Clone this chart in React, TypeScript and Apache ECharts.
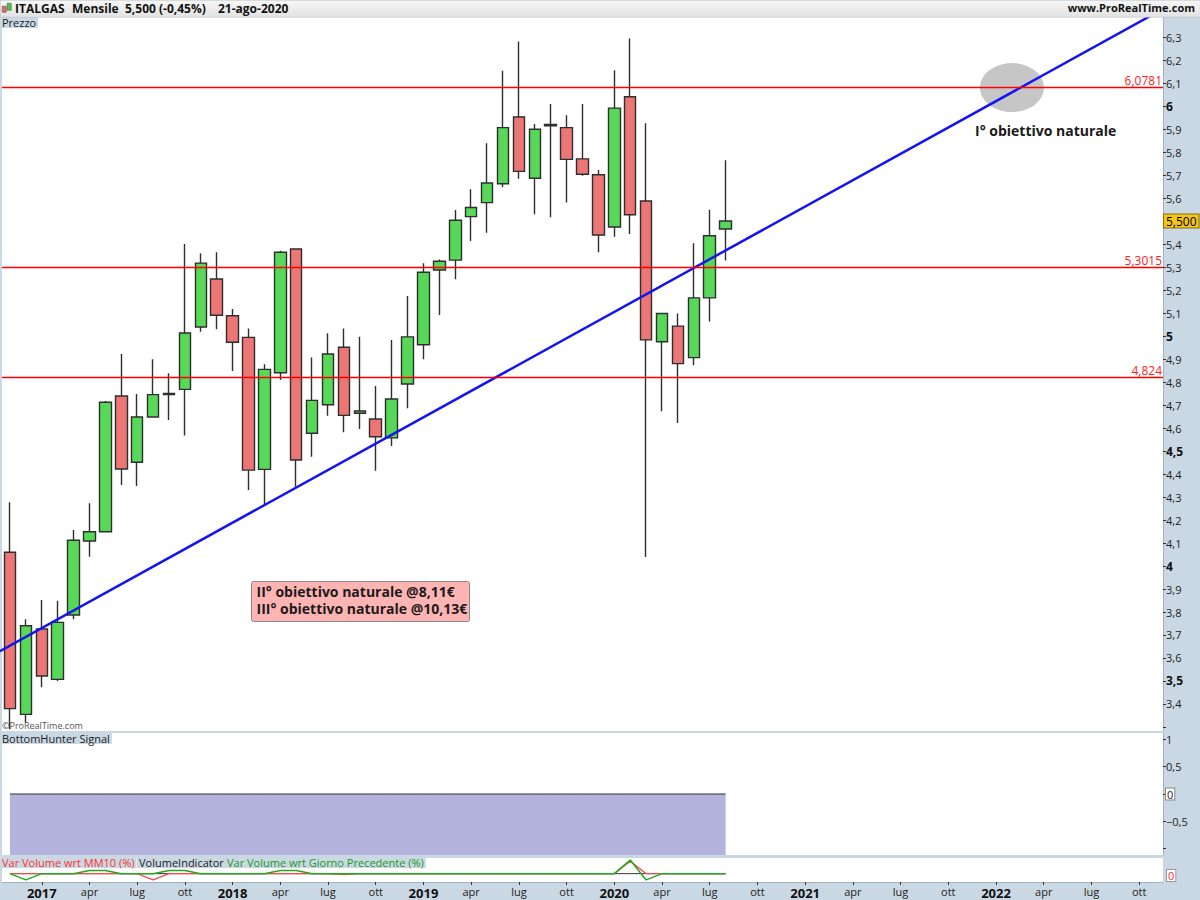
import React, { useEffect, useRef } from 'react';
import * as echarts from 'echarts';

// ---------- categories (monthly, Nov 2016 .. Nov 2022) ----------
const START_YEAR = 2016;
const START_MONTH = 10; // November (0-based)
const N_MONTHS = 73;
const categories: string[] = [];
for (let k = 0; k < N_MONTHS; k++) {
  const m = (START_MONTH + k) % 12;
  const y = START_YEAR + Math.floor((START_MONTH + k) / 12);
  categories.push(`${y}-${String(m + 1).padStart(2, '0')}`);
}
const MONTH_LABELS: Record<string, string> = { '04': 'apr', '07': 'lug', '10': 'ott' };

// ---------- monthly OHLC, Nov 2016 .. Aug 2020 ----------
const opens = [4.06, 3.355, 3.726, 3.507, 3.787, 4.109, 4.149, 4.739, 4.451, 4.648, 4.745, 4.768,
  5.039, 5.248, 5.088, 4.994, 4.42, 4.84, 5.378, 4.577, 4.701, 4.951, 4.664, 4.639,
  4.557, 4.791, 4.962, 5.287, 5.33, 5.519, 5.58, 5.662, 5.952, 5.686, 5.914, 5.906,
  5.77, 5.701, 5.474, 6.04, 5.587, 4.975, 5.043, 4.906, 5.166, 5.465];
const closes = [3.38, 3.74, 3.522, 3.755, 4.112, 4.149, 4.712, 4.422, 4.648, 4.745, 4.75, 5.013,
  5.317, 5.09, 4.973, 4.417, 4.855, 5.364, 4.461, 4.72, 4.922, 4.655, 4.674, 4.562,
  4.726, 4.996, 5.277, 5.325, 5.503, 5.559, 5.665, 5.906, 5.716, 5.899, 5.92, 5.768,
  5.703, 5.439, 5.991, 5.527, 4.983, 5.098, 4.88, 5.166, 5.436, 5.5];
const lows = [3.29, 3.32, 3.473, 3.5, 3.768, 4.04, 4.149, 4.352, 4.348, 4.645, 4.635, 4.567,
  5.019, 5.029, 4.848, 4.33, 4.265, 4.809, 4.345, 4.475, 4.653, 4.581, 4.596, 4.414,
  4.522, 4.686, 4.899, 5.091, 5.247, 5.413, 5.449, 5.647, 5.684, 5.529, 5.516, 5.581,
  5.697, 5.364, 5.432, 5.443, 4.039, 4.673, 4.622, 4.873, 5.063, 5.328];
const highs = [4.277, 3.768, 3.852, 3.849, 4.157, 4.273, 4.717, 4.922, 4.748, 4.899, 4.838, 5.4,
  5.36, 5.364, 5.117, 5.033, 4.877, 5.371, 5.38, 4.907, 5.012, 5.033, 4.997, 4.783,
  4.983, 5.174, 5.316, 5.333, 5.548, 5.638, 5.838, 6.153, 6.28, 5.922, 6.009, 5.96,
  6.009, 5.722, 6.155, 6.293, 5.925, 5.1, 5.098, 5.403, 5.549, 5.764];

// ---------- horizontal levels / last price / trend line ----------
const LEVELS = [6.0781, 5.3015, 4.824];
const LAST_PRICE = 5.5;
const TREND_START: [number, number] = [-0.63, 3.63];
const TREND_END: [number, number] = [72.5, 6.422];
const TARGET_POINT: [number, number] = [63.0, 6.08];

// ---------- lower panes ----------
const bottomHunter = [0, 0, 0, 0, 0, 0, 0, 0, 0, 0, 0, 0, 0, 0, 0, 0, 0, 0, 0, 0, 0, 0, 0,
  0, 0, 0, 0, 0, 0, 0, 0, 0, 0, 0, 0, 0, 0, 0, 0, 0, 0, 0, 0, 0, 0, 0];
const volZero = [0, 0, 0, 0, 0, 0, 0, 0, 0, 0, 0, 0, 0, 0, 0, 0, 0, 0, 0, 0, 0, 0, 0,
  0, 0, 0, 0, 0, 0, 0, 0, 0, 0, 0, 0, 0, 0, 0, 0, 0, 0, 0, 0, 0, 0, 0];
const volMM10 = [0, 0, 0, 0, 0, 0, 0, 0, 0, -0.6, 0, 0, 0, 0, 0, 0, 0, 0, 0, 0, 0, -0.1, 0,
  0, 0, 0, 0, 0, 0, 0, 0, 0, 0, 0, 0, 0, 0, 0, 0, 1.2, 0, 0, 0, 0, 0, 0];
const volPrev = [0, -0.6, 0, 0, 0, 0.3, 0.3, 0, 0, 0, 0.3, 0.3, 0, 0, 0, 0, 0, 0.3, 0.3, 0, 0, 0, 0,
  0, 0, 0, 0, 0, 0, 0, 0, 0, 0, 0, 0, 0, 0, 0, 0, 1.3, -0.6, 0, 0, 0, 0, 0];

const FONT = "'Open Sans', 'Noto Sans', sans-serif";
const PANEL = '#c9d8e3';

const comma = (v: number) => String(v).replace('.', ',');

export default function App() {
  const ref = useRef<HTMLDivElement>(null);

  useEffect(() => {
    if (!ref.current) return;
    const chart = echarts.init(ref.current, null, { renderer: 'svg' });

    const ohlc = opens.map((o, i) => [o, closes[i], lows[i], highs[i]]);
    const labelInterval = (_i: number, v: string) => ['01', '04', '07', '10'].includes(v.split('-')[1]);

    const priceFmt = (v: number) => {
      const r = Math.round(v * 10) / 10;
      if (Math.abs(v - r) > 1e-6) return '';
      if (r < 3.35 || r > 6.35 || Math.abs(r - LAST_PRICE) < 1e-6) return '';
      const s = Number.isInteger(r) ? String(r) : r.toFixed(1).replace('.', ',');
      return Math.abs(r * 2 - Math.round(r * 2)) < 1e-6 ? `{b|${s}}` : s;
    };

    const bhFmt = (v: number) => {
      if (Math.abs(v) < 1e-6) return '{z|0}';
      if (Math.abs(v - 1) < 1e-6) return '1';
      if (Math.abs(v - 0.5) < 1e-6) return '0,5';
      if (Math.abs(v + 0.5) < 1e-6) return '\u22120,5';
      return '';
    };

    const hiddenCat = (gridIndex: number) => ({
      type: 'category', gridIndex, data: categories, boundaryGap: true, show: false,
    });

    const titleStyle = (text: string, fill: string) => ({
      text, font: `11px ${FONT}`, fill, backgroundColor: PANEL, padding: [0, 2, 0, 2],
    });

    const option: any = {
      animation: false,
      backgroundColor: PANEL,
      textStyle: { fontFamily: FONT },
      grid: [
        { left: 2, top: 17, width: 1161, height: 714, show: true, backgroundColor: '#fff', borderWidth: 0 },
        { left: 2, top: 733, width: 1161, height: 122, show: true, backgroundColor: '#fff', borderWidth: 0 },
        { left: 2, top: 858, width: 1161, height: 24, show: true, backgroundColor: '#fff', borderWidth: 0 },
      ],
      xAxis: [
        hiddenCat(0),
        hiddenCat(1),
        {
          type: 'category', gridIndex: 2, data: categories, boundaryGap: true,
          axisLine: { show: true, onZero: false, lineStyle: { color: '#9fb3c1' } },
          axisTick: { show: true, interval: labelInterval, alignWithLabel: true, length: 3, lineStyle: { color: '#333' } },
          axisLabel: {
            interval: labelInterval, margin: 4, fontSize: 11, color: '#222', fontFamily: FONT,
            formatter: (v: string) => {
              const [y, m] = v.split('-');
              if (m === '01') return `{y|${y}}`;
              return MONTH_LABELS[m] || '';
            },
            rich: { y: { fontSize: 13, fontWeight: 'bold', color: '#111', fontFamily: FONT } },
          },
        },
        { type: 'value', gridIndex: 0, min: -0.5, max: 72.5, show: false, axisLine: { onZero: false } },
      ],
      yAxis: [
        {
          type: 'value', gridIndex: 0, position: 'right', min: 3.2826, max: 6.387,
          splitNumber: 30, minInterval: 0.1, maxInterval: 0.1, scale: true,
          splitLine: { show: false },
          axisLine: { show: true, onZero: false, lineStyle: { color: '#9fb3c1' } },
          axisTick: { show: true, length: 3, lineStyle: { color: '#333' } },
          axisLabel: {
            margin: 3, fontSize: 11, color: '#222', fontFamily: FONT, showMinLabel: false, showMaxLabel: false,
            formatter: priceFmt,
            rich: { b: { fontWeight: 'bold', fontSize: 12, color: '#111', fontFamily: FONT } },
          },
        },
        {
          type: 'value', gridIndex: 1, position: 'right', min: -1.115, max: 1.115,
          splitNumber: 4, minInterval: 0.5, maxInterval: 0.5,
          splitLine: { show: false },
          axisLine: { show: true, onZero: false, lineStyle: { color: '#9fb3c1' } },
          axisTick: { show: true, length: 3, lineStyle: { color: '#333' } },
          axisLabel: {
            margin: 3, fontSize: 11, color: '#222', fontFamily: FONT, showMinLabel: false, showMaxLabel: false,
            formatter: bhFmt,
            rich: { z: { backgroundColor: '#fff', borderColor: '#888', borderWidth: 1, padding: [0, 1, 0, 1], fontSize: 11, color: '#222', fontFamily: FONT } },
          },
        },
        { type: 'value', gridIndex: 2, min: -0.8, max: 1.5, show: false, axisLine: { onZero: false } },
      ],
      series: [
        {
          type: 'scatter', xAxisIndex: 3, yAxisIndex: 0, z: 1, silent: true,
          symbol: 'circle', symbolSize: [64, 49],
          itemStyle: { color: '#b8b8b8' },
          data: [TARGET_POINT],
        },
        {
          type: 'candlestick', xAxisIndex: 0, yAxisIndex: 0, z: 2, barWidth: 12,
          itemStyle: {
            color: '#58d858', color0: '#ec7676',
            borderColor: '#2e2e2e', borderColor0: '#2e2e2e', borderWidth: 1.4,
          },
          data: ohlc,
          markLine: {
            symbol: 'none', silent: true, animation: false,
            data: [
              ...LEVELS.map((v) => ({
                yAxis: v,
                lineStyle: { color: '#ff0000', width: 1.3, type: 'solid' },
                label: { show: true, position: 'insideEndTop', formatter: comma(v), color: '#ff2020', fontSize: 12, fontFamily: FONT, distance: 1 },
              })),
              {
                yAxis: LAST_PRICE,
                lineStyle: { color: 'rgba(0,0,0,0)', width: 0 },
                label: {
                  show: true, position: 'end', formatter: LAST_PRICE.toFixed(3).replace('.', ','),
                  backgroundColor: '#f5c518', borderColor: '#8a7000', borderWidth: 1,
                  padding: [1, 2, 0, 2], color: '#000', fontSize: 12, fontFamily: FONT, distance: 1,
                },
              },
            ],
          },
        },
        {
          type: 'line', xAxisIndex: 3, yAxisIndex: 0, z: 4, silent: true, clip: true,
          symbol: 'none', lineStyle: { color: '#1414ee', width: 2.5 },
          data: [TREND_START, TREND_END],
        },
        {
          type: 'line', xAxisIndex: 1, yAxisIndex: 1, symbol: 'none', silent: true,
          lineStyle: { color: '#333', width: 1 },
          areaStyle: { color: '#b3b3dd', opacity: 1, origin: 'start' },
          data: bottomHunter,
        },
        {
          type: 'line', xAxisIndex: 2, yAxisIndex: 2, symbol: 'none', silent: true,
          lineStyle: { color: '#333', width: 1 }, data: volZero,
        },
        {
          type: 'line', xAxisIndex: 2, yAxisIndex: 2, symbol: 'none', silent: true,
          lineStyle: { color: '#ff4a4a', width: 1.3 }, data: volMM10,
        },
        {
          type: 'line', xAxisIndex: 2, yAxisIndex: 2, symbol: 'none', silent: true,
          lineStyle: { color: '#22a822', width: 1.5 }, data: volPrev,
        },
      ],
      graphic: [
        // header bar
        {
          type: 'rect', left: 0, top: 0, z: 100, silent: true,
          shape: { width: 1200, height: 17 },
          style: {
            fill: new echarts.graphic.LinearGradient(0, 0, 0, 1, [
              { offset: 0, color: '#f7f7f7' }, { offset: 1, color: '#e2e2e2' },
            ]),
            stroke: '#b8b8b8', lineWidth: 0.5,
          },
        },
        { type: 'rect', left: 2, top: 6, z: 101, shape: { width: 4, height: 6 }, style: { fill: '#e66', stroke: '#444', lineWidth: 0.5 } },
        { type: 'rect', left: 7, top: 3, z: 101, shape: { width: 4, height: 7 }, style: { fill: '#4c4', stroke: '#444', lineWidth: 0.5 } },
        { type: 'text', left: 15, top: 2, z: 101, style: { text: 'ITALGAS', font: `bold 12px ${FONT}`, fill: '#111' } },
        { type: 'text', left: 72, top: 2, z: 101, style: { text: 'Mensile', font: `bold 12px ${FONT}`, fill: '#111' } },
        { type: 'text', left: 125, top: 2, z: 101, style: { text: '5,500 (-0,45%)', font: `bold 12px ${FONT}`, fill: '#111' } },
        { type: 'text', left: 218, top: 2, z: 101, style: { text: '21-ago-2020', font: `bold 12px ${FONT}`, fill: '#111' } },
        { type: 'text', right: 5, top: 2, z: 101, style: { text: 'www.ProRealTime.com', font: `bold 11px ${FONT}`, fill: '#111' } },
        // pane titles
        { type: 'text', left: 0, top: 17, z: 50, style: titleStyle('Prezzo', '#222') },
        { type: 'text', left: 0, top: 733, z: 50, style: titleStyle('BottomHunter Signal', '#222') },
        { type: 'text', left: 0, top: 857, z: 50, style: titleStyle('Var Volume wrt MM10 (%)', '#ff3030') },
        { type: 'text', left: 137, top: 857, z: 50, style: titleStyle('VolumeIndicator', '#222') },
        { type: 'text', left: 225, top: 857, z: 50, style: titleStyle('Var Volume wrt Giorno Precedente (%)', '#1a9a1a') },
        { type: 'text', left: 2, top: 721, z: 50, style: { text: '\u00a9ProRealTime.com', font: `9px ${FONT}`, fill: '#555' } },
        // volume pane right labels
        { type: 'text', left: 1166, top: 869, z: 50, style: { text: '0', font: `11px ${FONT}`, fill: '#ff2a2a', backgroundColor: '#fff', borderColor: '#999', borderWidth: 1, padding: [0, 1, 0, 1] } },
        // annotations
        { type: 'text', left: 975, top: 123, z: 50, style: { text: 'I\u00b0 obiettivo naturale', font: `bold 14px ${FONT}`, fill: '#1a1a1a' } },
        {
          type: 'group', left: 251, top: 581, z: 50,
          children: [
            { type: 'rect', shape: { x: 0, y: 0, width: 218, height: 40, r: 2 }, style: { fill: '#ffb4b4', stroke: '#8a8a8a', lineWidth: 1 } },
            { type: 'text', x: 5, y: 3, style: { text: 'II\u00b0 obiettivo naturale @8,11\u20ac', font: `bold 14px ${FONT}`, fill: '#1a1a1a' } },
            { type: 'text', x: 5, y: 20, style: { text: 'III\u00b0 obiettivo naturale @10,13\u20ac', font: `bold 14px ${FONT}`, fill: '#1a1a1a' } },
          ],
        },
      ],
    };

    chart.setOption(option);
    return () => chart.dispose();
  }, []);

  return <div ref={ref} style={{ position: 'fixed', left: 0, top: 0, width: 1200, height: 900 }} />;
}
